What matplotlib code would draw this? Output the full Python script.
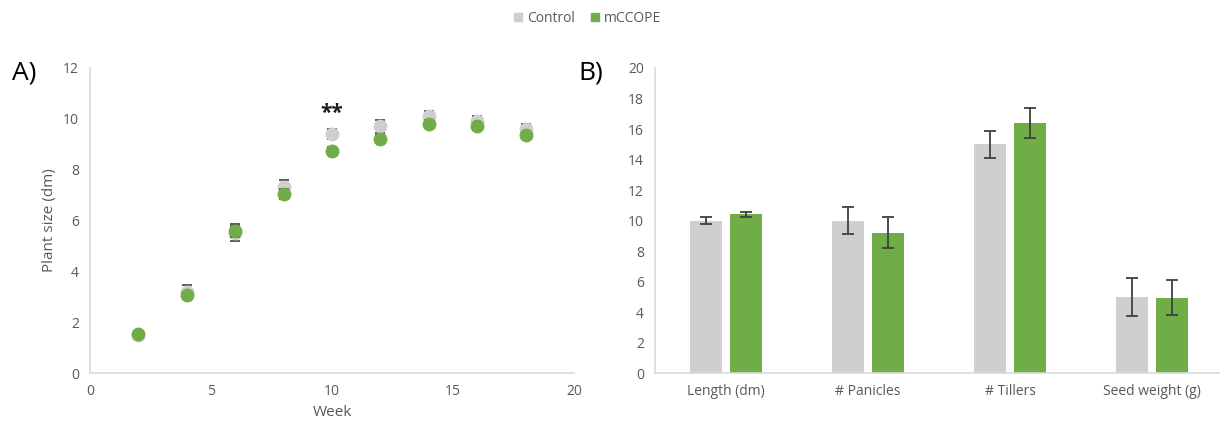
import numpy as np
import matplotlib.pyplot as plt

# A) plant size over time
weeks = [2, 4, 6, 8, 10, 12, 14, 16, 18]
ctrl_size = [1.5, 3.2, 5.5, 7.3, 9.4, 9.7, 10.1, 9.9, 9.6]
ctrl_err = [0.05, 0.25, 0.3, 0.3, 0.2, 0.25, 0.2, 0.2, 0.2]
mcc_size = [1.52, 3.05, 5.6, 7.05, 8.75, 9.2, 9.8, 9.7, 9.35]
mcc_err = [0.05, 0.1, 0.25, 0.2, 0.15, 0.15, 0.15, 0.15, 0.1]

# B) traits
traits = ["Length (dm)", "# Panicles", "# Tillers", "Seed weight (g)"]
ctrl_trait = [10.0, 10.0, 15.0, 5.0]
ctrl_trait_err = [0.2, 0.9, 0.9, 1.25]
mcc_trait = [10.4, 9.2, 16.4, 4.95]
mcc_trait_err = [0.15, 1.0, 1.0, 1.15]

GREY = "#D0CECE"
GREEN = "#70AD47"
ERR = "#404040"
TICK = "#595959"
SPINE = "#D9D9D9"

plt.rcParams['font.family'] = ['Open Sans', 'DejaVu Sans']

fig = plt.figure(figsize=(12.2, 4.29), dpi=100)
ax1 = fig.add_axes([0.0738, 0.1305, 0.3967, 0.711])
ax2 = fig.add_axes([0.537, 0.1305, 0.4655, 0.711])

for ax in (ax1, ax2):
    for s in ("top", "right"):
        ax.spines[s].set_visible(False)
    for s in ("left", "bottom"):
        ax.spines[s].set_color(SPINE)
        ax.spines[s].set_linewidth(1.2)
    ax.tick_params(length=0, colors=TICK, labelsize=10, pad=8)

# left panel
ax1.errorbar(weeks, ctrl_size, yerr=ctrl_err, fmt='o', color=GREY, ms=9,
             ecolor=ERR, elinewidth=1.2, capsize=3.5, capthick=1.2, zorder=3)
ax1.errorbar(weeks, mcc_size, yerr=mcc_err, fmt='o', color=GREEN, ms=9,
             ecolor=ERR, elinewidth=1.2, capsize=3.5, capthick=1.2, zorder=4)
ax1.set_xlim(0, 20)
ax1.set_ylim(0, 12)
ax1.set_xticks([0, 5, 10, 15, 20])
ax1.set_yticks(range(0, 13, 2))
ax1.set_xlabel("Week", color=TICK, fontsize=11)
ax1.set_ylabel("Plant size (dm)", color=TICK, fontsize=11)
ax1.text(weeks[4], ctrl_size[4] + 0.8, "**", ha='center', va='center',
         fontsize=15, fontweight='bold', color='#1a1a1a')

# right panel
x = np.arange(len(traits))
w = 0.225
off = 0.14
ax2.bar(x - off, ctrl_trait, w, color=GREY, yerr=ctrl_trait_err,
        error_kw=dict(ecolor=ERR, elinewidth=1.3, capsize=4, capthick=1.3), label="Control")
ax2.bar(x + off, mcc_trait, w, color=GREEN, yerr=mcc_trait_err,
        error_kw=dict(ecolor=ERR, elinewidth=1.3, capsize=4, capthick=1.3), label="mCCOPE")
ax2.set_xlim(-0.5, 3.5)
ax2.set_ylim(0, 20)
ax2.set_yticks(range(0, 21, 2))
ax2.set_xticks(x)
ax2.set_xticklabels(traits)

fig.text(0.010, 0.83, "A)", fontsize=19, color='black', va='center')
fig.text(0.474, 0.83, "B)", fontsize=19, color='black', va='center')

handles = [plt.Line2D([], [], marker='s', ls='', color=GREY, ms=6),
           plt.Line2D([], [], marker='s', ls='', color=GREEN, ms=6)]
fig.legend(handles, ["Control", "mCCOPE"], loc='center', bbox_to_anchor=(0.481, 0.958),
           ncol=2, frameon=False, fontsize=10, labelcolor=TICK,
           handletextpad=0.3, columnspacing=1.0, handlelength=0.8)

fig.savefig("out.png", dpi=100)
